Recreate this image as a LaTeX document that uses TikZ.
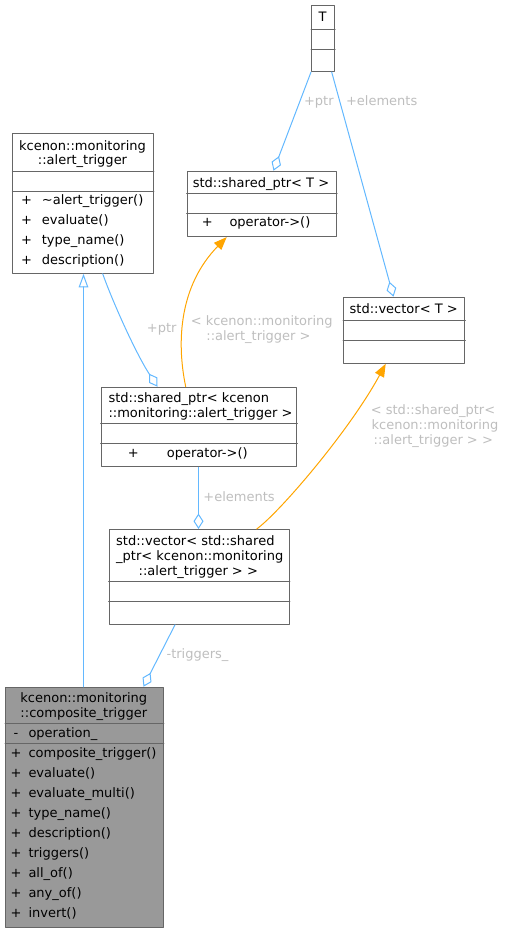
\documentclass[tikz,border=0pt]{standalone}
\usepackage{fontspec}
\setmainfont{DejaVu Sans}
\usetikzlibrary{arrows.meta}
\definecolor{edgeblue}{HTML}{63B8FF}
\definecolor{tmplorange}{HTML}{FFA500}
\definecolor{boxgray}{HTML}{666666}
\definecolor{lblgray}{HTML}{BEBEBE}
\definecolor{compfill}{HTML}{999999}

\begin{document}
\begin{tikzpicture}[x=1pt,y=-1pt,line cap=round,line join=round,
	every node/.style={font=\fontsize{13}{15}\selectfont,inner sep=0pt},
	cls/.style={draw=boxgray,line width=1.1pt,fill=white,anchor=north west},
	sepline/.style={draw=boxgray,line width=1pt},
	txt/.style={anchor=base},
	lft/.style={anchor=base west},
	lbl/.style={anchor=base,text=lblgray},
	uses/.style={draw=edgeblue,line width=1pt,{Diamond[open,length=15.5pt,width=10pt]}-},
	derived/.style={draw=edgeblue,line width=1.3pt,-{Triangle[open,length=13.5pt,width=9.5pt,line width=1pt]}},
	tmpl/.style={draw=tmplorange,line width=1pt,-{Triangle[length=13pt,width=10pt]}}]
	\useasboundingbox (0,0) rectangle (504,932);

	% T
	\node[cls,minimum width=23pt,minimum height=66pt] (T) at (311,5) {};
	\draw[sepline] (T.west |- 0,29.5) -- (T.east |- 0,29.5);
	\draw[sepline] (T.west |- 0,49.5) -- (T.east |- 0,49.5);
	\node[txt] (Tname) at (322.5,21.6) {T};

	% alert_trigger
	\node[cls,minimum width=140.4pt,minimum height=139.7pt] (alert) at (12.3,133) {};
	\draw[sepline] (alert.west |- 0,171.5) -- (alert.east |- 0,171.5);
	\draw[sepline] (alert.west |- 0,191.5) -- (alert.east |- 0,191.5);
	\node[txt] (alertA) at (82.5,150.6) {kcenon::monitoring};
	\node[txt] (alertB) at (82.5,164.6) {::alert\_trigger};
	\node[txt] (alertP1) at (26.5,204.6) {+};
	\node[lft] (alertM1) at (41.7,204.6) {\textasciitilde alert\_trigger()};
	\node[txt] (alertP2) at (26.5,224.6) {+};
	\node[lft] (alertM2) at (41.7,224.6) {evaluate()};
	\node[txt] (alertP3) at (26.5,244.6) {+};
	\node[lft] (alertM3) at (41.7,244.6) {type\_name()};
	\node[txt] (alertP4) at (26.5,264.6) {+};
	\node[lft] (alertM4) at (41.7,264.6) {description()};

	% std::shared_ptr< T >
	\node[cls,minimum width=149.3pt,minimum height=65.3pt] (sharedT) at (186.7,170.7) {};
	\draw[sepline] (sharedT.west |- 0,193.5) -- (sharedT.east |- 0,193.5);
	\draw[sepline] (sharedT.west |- 0,213.5) -- (sharedT.east |- 0,213.5);
	\node[txt] (sharedTname) at (261,187.3) {std::shared\_ptr< T >};
	\node[txt] (sharedTP1) at (207.3,226.6) {+};
	\node[lft] (sharedTM1) at (229.3,226.6) {operator->()};

	% std::vector< T >
	\node[cls,minimum width=121.3pt,minimum height=66pt] (vecT) at (343,296.7) {};
	\draw[sepline] (vecT.west |- 0,320.5) -- (vecT.east |- 0,320.5);
	\draw[sepline] (vecT.west |- 0,340.5) -- (vecT.east |- 0,340.5);
	\node[txt] (vecTname) at (403.7,313.9) {std::vector< T >};

	% std::shared_ptr< alert_trigger >
	\node[cls,minimum width=195.6pt,minimum height=79.6pt] (sharedA) at (100.7,386.7) {};
	\draw[sepline] (sharedA.west |- 0,423.5) -- (sharedA.east |- 0,423.5);
	\draw[sepline] (sharedA.west |- 0,443.5) -- (sharedA.east |- 0,443.5);
	\node[lft] (sharedAa) at (108.3,402.9) {std::shared\_ptr< kcenon};
	\node[lft] (sharedAb) at (108.3,417.3) {::monitoring::alert\_trigger >};
	\node[txt] (sharedAP1) at (133.3,457.3) {+};
	\node[lft] (sharedAM1) at (166.7,457.3) {operator->()};

	% std::vector< shared_ptr >
	\node[cls,minimum width=180pt,minimum height=94.7pt] (vecA) at (108.7,529) {};
	\draw[sepline] (vecA.west |- 0,581.5) -- (vecA.east |- 0,581.5);
	\draw[sepline] (vecA.west |- 0,601.5) -- (vecA.east |- 0,601.5);
	\node[lft] (vecAa) at (116,545.6) {std::vector< std::shared};
	\node[lft] (vecAb) at (116,560.6) {\_ptr< kcenon::monitoring};
	\node[txt] (vecAc) at (198.3,575.3) {::alert\_trigger > >};

	% composite_trigger
	\node[cls,fill=compfill,minimum width=157.7pt,minimum height=240pt] (comp) at (5,686.7) {};
	\draw[sepline] (comp.west |- 0,723.5) -- (comp.east |- 0,723.5);
	\draw[sepline] (comp.west |- 0,743.5) -- (comp.east |- 0,743.5);
	\node[txt] (compA) at (83.8,702.9) {kcenon::monitoring};
	\node[txt] (compB) at (83.8,717.3) {::composite\_trigger};
	\node[txt] (compV) at (16,737.3) {-};
	\node[lft] (compVn) at (28.3,737.3) {operation\_};
	\foreach \nm [count=\i] in {composite\_trigger(),evaluate(),evaluate\_multi(),
		type\_name(),description(),triggers(),all\_of(),any\_of(),invert()}{
		\node[txt] (compP\i) at (16,737.6+20*\i) {+};
		\node[lft] (compM\i) at (28.3,737.6+20*\i) {\nm};
	}

	% connectors
	\draw[derived] (comp.north -| 83.5,0) -- (alert.south -| 83.5,0);
	\draw[uses] (sharedA.north -| 157.5,0) .. controls (135,352) and (112,300) .. (alert.south -| 102.7,0);
	\draw[tmpl] (sharedA.north -| 185.7,0) .. controls (176,340) and (180,285) .. (sharedT.south -| 226.7,0);
	\draw[uses] (sharedT.north -| 273.5,0) -- (T.south west);
	\draw[uses] (vecT.north -| 393.5,0) -- (T.south -| 331.7,0);
	\draw[uses] (vecA.north -| 198.5,0) -- (sharedA.south -| 198.5,0);
	\draw[tmpl] (vecA.north -| 256.7,0) .. controls (280,512) and (350,430) .. (vecT.south -| 385.7,0);
	\draw[uses] (comp.north -| 143.5,0) -- (vecA.south -| 175,0);

	% labels
	\node[lbl] (lptrA) at (161.7,332.9) {+ptr};
	\node[lbl] (ltmplA) at (261.7,325.6) {< kcenon::monitoring};
	\node[lbl] (ltmplB) at (258.5,340.6) {::alert\_trigger >};
	\node[lbl] (lptrT) at (318.8,105.6) {+ptr};
	\node[lbl] (lelemT) at (381.7,105.6) {+elements};
	\node[lbl] (lelemA) at (239,501.3) {+elements};
	\node[lbl] (lvecA) at (433,414.6) {< std::shared\_ptr<};
	\node[lbl] (lvecB) at (435,429.6) {kcenon::monitoring};
	\node[lbl] (lvecC) at (433.3,444.6) {::alert\_trigger > >};
	\node[lbl] (ltrig) at (197.5,658.9) {-triggers\_};
\end{tikzpicture}
\end{document}
